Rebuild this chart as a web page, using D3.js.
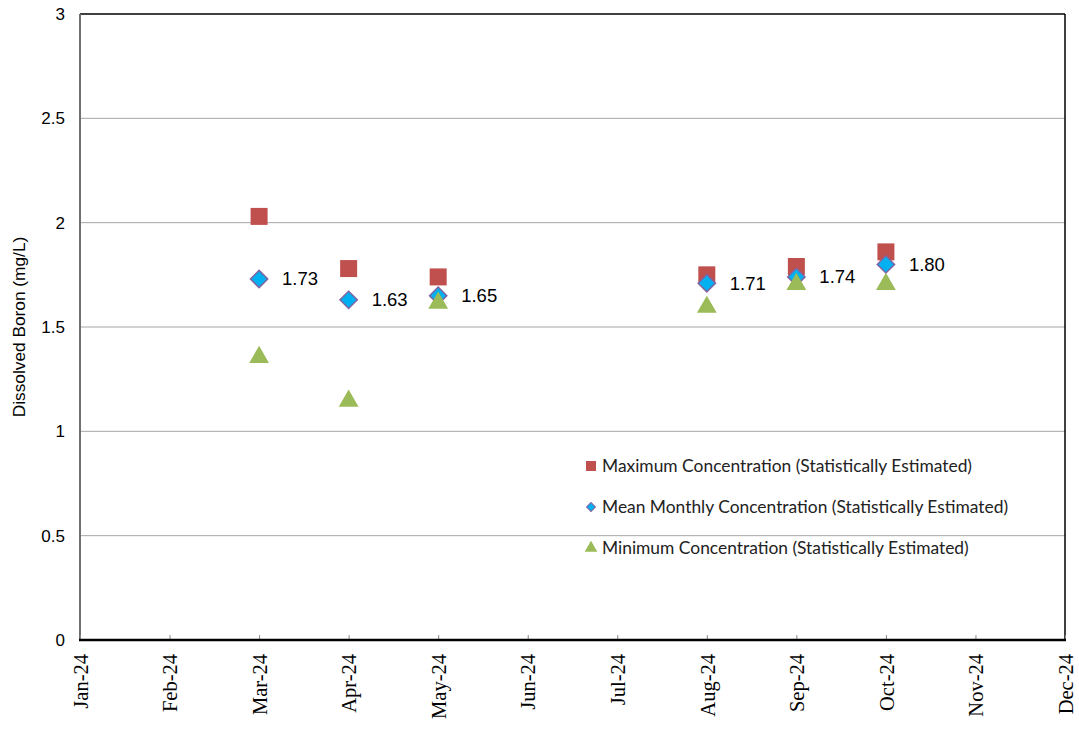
<!DOCTYPE html>
<html>
<head>
<meta charset="utf-8">
<script src="https://cdn.jsdelivr.net/npm/d3@7"></script>
<style>
  body { margin: 0; background: #fff; }
</style>
</head>
<body>
<svg id="chart" width="1079" height="729"></svg>
<script>
// sample months (first of month)
const sampleDates = ["2024-03-01", "2024-04-01", "2024-05-01", "2024-08-01", "2024-09-01", "2024-10-01"];
const maxConc = [2.03, 1.78, 1.74, 1.75, 1.79, 1.86];
const meanConc = [1.73, 1.63, 1.65, 1.71, 1.74, 1.80];
const minConc = [1.36, 1.15, 1.62, 1.60, 1.71, 1.71];
const yTicks = [0, 0.5, 1, 1.5, 2, 2.5, 3];
const legendLabels = [
  "Maximum Concentration (Statistically Estimated)",
  "Mean Monthly Concentration (Statistically Estimated)",
  "Minimum Concentration (Statistically Estimated)"
];

const parse = d3.utcParse("%Y-%m-%d");
const svg = d3.select("#chart");
const margin = { left: 80, right: 14, top: 14, bottom: 89 };
const W = 1079, H = 729;

const start = parse("2024-01-01");
const months = d3.utcMonth.range(start, parse("2024-12-02"));
// months spaced evenly, like the original axis
const monthIdx = d => d3.utcMonth.count(start, d);
const xm = d3.scaleLinear().domain([0, 11]).range([margin.left, W - margin.right]);
const x = d => xm(monthIdx(d));
const y = d3.scaleLinear().domain([0, 3]).range([H - margin.bottom, margin.top]);

// gridlines
svg.append("g")
  .selectAll("line")
  .data(yTicks.filter(d => d > 0 && d < 3))
  .join("line")
  .attr("x1", xm.range()[0]).attr("x2", xm.range()[1])
  .attr("y1", d => y(d)).attr("y2", d => y(d))
  .attr("stroke", "#a6a6a6").attr("stroke-width", 1);

// frame: top and right black, left gray
svg.append("line")
  .attr("x1", xm.range()[0]).attr("x2", xm.range()[1])
  .attr("y1", y(3)).attr("y2", y(3))
  .attr("stroke", "#000").attr("stroke-width", 1.5);
svg.append("line")
  .attr("x1", xm.range()[1]).attr("x2", xm.range()[1])
  .attr("y1", y(3)).attr("y2", y(0))
  .attr("stroke", "#000").attr("stroke-width", 1.5);
svg.append("line")
  .attr("x1", xm.range()[0]).attr("x2", xm.range()[0])
  .attr("y1", y(3)).attr("y2", y(0))
  .attr("stroke", "#6f6f6f").attr("stroke-width", 2);

// y axis labels
const yAxis = svg.append("g")
  .attr("transform", `translate(${margin.left},0)`)
  .call(d3.axisLeft(y).tickValues(yTicks).tickSize(0).tickPadding(15).tickFormat(d3.format("")));
yAxis.select(".domain").remove();
yAxis.selectAll("text")
  .attr("font-family", "Liberation Sans, Arial, sans-serif")
  .attr("font-size", 17).attr("fill", "#000");

// x axis
const xAxis = svg.append("g")
  .attr("transform", `translate(0,${y(0)})`)
  .call(d3.axisTop(xm).tickValues(d3.range(12)).tickSize(5)
    .tickFormat(i => d3.utcFormat("%b-%y")(months[i])));
xAxis.select(".domain").remove();
xAxis.selectAll(".tick line").attr("stroke", "#888");
xAxis.selectAll("text")
  .attr("font-family", "Liberation Serif, Times New Roman, serif")
  .attr("font-size", 20.5).attr("fill", "#000")
  .attr("transform", "rotate(-90)")
  .attr("text-anchor", "end")
  .attr("x", -14).attr("y", 0).attr("dy", "0.35em");
svg.append("line")
  .attr("x1", xm.range()[0] - 1).attr("x2", xm.range()[1] + 1)
  .attr("y1", y(0)).attr("y2", y(0))
  .attr("stroke", "#000").attr("stroke-width", 2.5);

// y title
svg.append("text")
  .attr("transform", `translate(25,${y(1.5)}) rotate(-90)`)
  .attr("text-anchor", "middle")
  .attr("font-family", "Liberation Sans, Arial, sans-serif")
  .attr("font-size", 17.3)
  .text("Dissolved Boron (mg/L)");

const dates = sampleDates.map(parse);
const sq = d3.symbol().type(d3.symbolSquare).size(17 * 17);
const dia = d3.symbol().type(d3.symbolSquare).size(150);
const tri = d3.symbol().type(d3.symbolTriangle).size(170);

svg.append("g").selectAll("path")
  .data(maxConc)
  .join("path")
  .attr("d", sq)
  .attr("transform", (d, i) => `translate(${x(dates[i])},${y(d)})`)
  .attr("fill", "#C0504D");

svg.append("g").selectAll("path")
  .data(meanConc)
  .join("path")
  .attr("d", dia)
  .attr("transform", (d, i) => `translate(${x(dates[i])},${y(d)}) rotate(45)`)
  .attr("fill", "#00B0F0").attr("stroke", "#8064A2").attr("stroke-width", 1.5);

svg.append("g").selectAll("path")
  .data(minConc)
  .join("path")
  .attr("d", tri)
  .attr("transform", (d, i) => `translate(${x(dates[i])},${y(d) + 1})`)
  .attr("fill", "#9BBB59");

// value labels for mean
svg.append("g").selectAll("text")
  .data(meanConc)
  .join("text")
  .attr("x", (d, i) => x(dates[i]) + 23)
  .attr("y", (d, i) => y(d))
  .attr("dy", "0.35em")
  .attr("font-family", "Liberation Sans, Arial, sans-serif")
  .attr("font-size", 18.5)
  .text(d => d.toFixed(2));

// legend
const legend = svg.append("g").attr("transform", "translate(591,466)");
const legendSymbols = [
  { d: d3.symbol().type(d3.symbolSquare).size(100)(), fill: "#C0504D", stroke: "none", rot: 0 },
  { d: d3.symbol().type(d3.symbolSquare).size(40)(), fill: "#00B0F0", stroke: "#8064A2", rot: 45 },
  { d: d3.symbol().type(d3.symbolTriangle).size(70)(), fill: "#9BBB59", stroke: "none", rot: 0 }
];
legendLabels.forEach((lab, i) => {
  const g = legend.append("g").attr("transform", `translate(0,${i * 41})`);
  g.append("path").attr("d", legendSymbols[i].d)
    .attr("transform", `rotate(${legendSymbols[i].rot})`)
    .attr("fill", legendSymbols[i].fill)
    .attr("stroke", legendSymbols[i].stroke).attr("stroke-width", 1);
  g.append("text")
    .attr("x", 11).attr("dy", "0.35em")
    .attr("font-family", "Lato, Open Sans, sans-serif")
    .attr("font-size", 17.4)
    .attr("fill", "#222")
    .text(lab);
});
</script>
</body>
</html>
